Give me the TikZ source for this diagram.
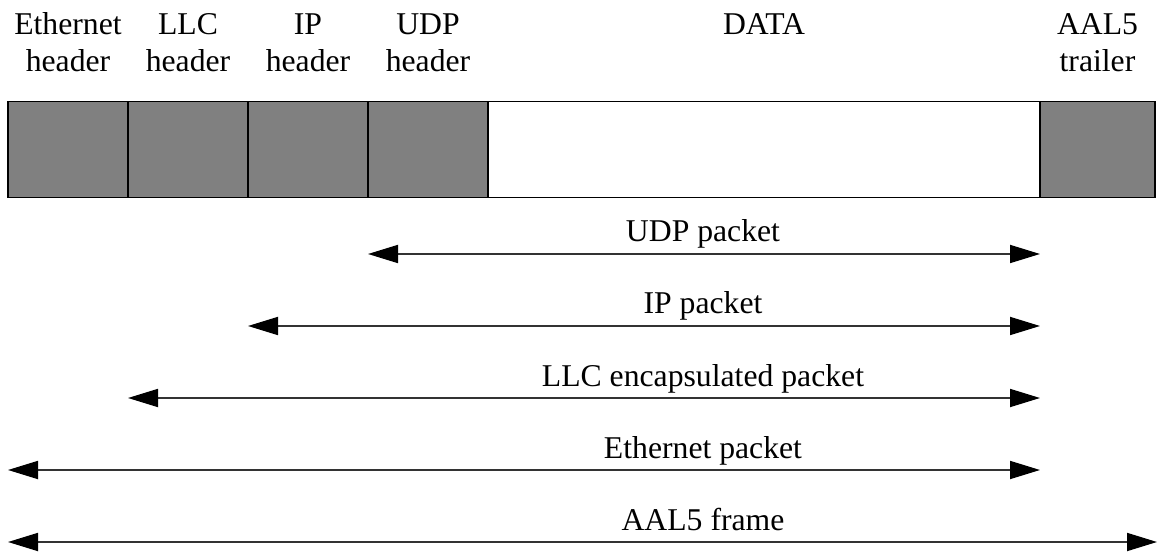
\documentclass[tikz,border=0pt]{standalone}
\usepackage{fontspec}
\setmainfont{Liberation Serif}
\usetikzlibrary{arrows.meta}
\definecolor{hdrgray}{HTML}{808080}
\definecolor{linegray}{HTML}{333333}
\tikzset{
  field/.style={draw=black, line width=1.5pt, minimum height=96pt, inner sep=0pt, outer sep=0pt},
  hdr/.style={field, fill=hdrgray},
  payload/.style={field, fill=white},
  caption/.style={anchor=base, align=center, inner sep=0pt, font=\fontsize{31.7}{37}\selectfont},
  span/.style={draw=linegray, line width=1.8pt,
    {Triangle[length=30pt,width=18pt,color=black]}-{Triangle[length=30pt,width=18pt,color=black]}},
  spanlabel/.style={anchor=base, inner sep=0pt, font=\fontsize{31.7}{37}\selectfont}
}
\begin{document}
\begin{tikzpicture}[x=1pt,y=-1pt]
\useasboundingbox (0,0) rectangle (1157,553);

% packet fields
\node[hdr, minimum width=120pt, anchor=north west] (eth) at (8,101.5) {};
\node[hdr, minimum width=120pt, anchor=north west] (llc) at (eth.north east) {};
\node[hdr, minimum width=120pt, anchor=north west] (ip) at (llc.north east) {};
\node[hdr, minimum width=120pt, anchor=north west] (udp) at (ip.north east) {};
\node[payload, minimum width=552pt, anchor=north west] (data) at (udp.north east) {};
\node[hdr, minimum width=115pt, anchor=north west] (trailer) at (data.north east) {};

% field captions (base anchor sits on the last line)
\node[caption] (ethcap) at (68,72) {Ethernet\\header};
\node[caption] (llccap) at (188,72) {LLC\\header};
\node[caption] (ipcap) at (308,72) {IP\\header};
\node[caption] (udpcap) at (428,72) {UDP\\header};
\node[caption] (datacap) at (764,35) {DATA};
\node[caption] (trlcap) at (1097.5,72) {AAL5\\trailer};

% rows of the span arrows
\coordinate (r1) at (0,254);
\coordinate (r2) at (0,326);
\coordinate (r3) at (0,398);
\coordinate (r4) at (0,470);
\coordinate (r5) at (0,542);
\coordinate (farright) at (1157,542);

\draw[span] (udp.south west |- r1) -- (trailer.south west |- r1);
\draw[span] (ip.south west |- r2) -- (trailer.south west |- r2);
\draw[span] (llc.south west |- r3) -- (trailer.south west |- r3);
\draw[span] (eth.south west |- r4) -- (trailer.south west |- r4);
\draw[span] (eth.south west |- r5) -- (farright);

\node[spanlabel] (l1) at (703,242) {UDP packet};
\node[spanlabel] (l2) at (703,314) {IP packet};
\node[spanlabel] (l3) at (703,386) {LLC encapsulated packet};
\node[spanlabel] (l4) at (703,458) {Ethernet packet};
\node[spanlabel] (l5) at (703,530) {AAL5 frame};
\end{tikzpicture}
\end{document}
